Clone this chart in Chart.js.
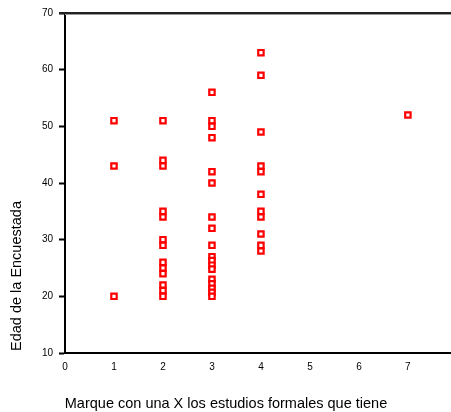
<!DOCTYPE html>
<html>
<head>
<meta charset="utf-8">
<script src="https://cdn.jsdelivr.net/npm/chart.js@4/dist/chart.umd.min.js"></script>
<style>
  html, body { margin: 0; padding: 0; background: #fff; overflow: hidden; }
  #wrap { width: 457px; height: 412px; position: relative; }
</style>
</head>
<body>
<div id="wrap"><canvas id="scatterChart"></canvas></div>
<script>
// estudios formales (x) vs edad (y)
const estudios1 = [1, 1, 1];
const edad1 = [51, 43, 20];
const estudios2 = [2, 2, 2, 2, 2, 2, 2, 2, 2, 2, 2, 2, 2];
const edad2 = [51, 44, 43, 35, 34, 30, 29, 26, 25, 24, 22, 21, 20];
const estudios3 = [3, 3, 3, 3, 3, 3, 3, 3, 3, 3, 3, 3, 3, 3, 3, 3, 3, 3];
const edad3 = [56, 51, 50, 48, 42, 40, 34, 32, 29, 27, 26.3, 25.5, 24.8, 23, 22.2, 21.4, 20.7, 20];
const estudios4 = [4, 4, 4, 4, 4, 4, 4, 4, 4, 4, 4];
const edad4 = [63, 59, 49, 43, 42, 38, 35, 34, 31, 29, 28];
const estudios7 = [7];
const edad7 = [52];

const yTicks = [10, 20, 30, 40, 50, 60, 70];
const xTicks = [0, 1, 2, 3, 4, 5, 6, 7];
const xTitle = 'Marque con una X los estudios formales que tiene';
const yTitle = 'Edad de la Encuestada';

const xs = [].concat(estudios1, estudios2, estudios3, estudios4, estudios7);
const ys = [].concat(edad1, edad2, edad3, edad4, edad7);
const points = xs.map((x, i) => ({ x: x, y: ys[i] }));

const FONT = 'Arial, "Liberation Sans", sans-serif';

// titles and top frame line
const decor = {
  id: 'decor',
  afterDraw(chart) {
    const ctx = chart.ctx;
    const a = chart.chartArea;
    ctx.save();
    ctx.strokeStyle = '#222';
    ctx.lineWidth = 2;
    ctx.beginPath();
    ctx.moveTo(a.left - 6, a.top);
    ctx.lineTo(a.right, a.top);
    ctx.stroke();
    ctx.strokeStyle = '#999';
    ctx.lineWidth = 1;
    ctx.beginPath();
    ctx.moveTo(a.left, a.top + 1.5);
    ctx.lineTo(a.right, a.top + 1.5);
    ctx.stroke();

    ctx.fillStyle = '#000';
    ctx.font = '14.5px ' + FONT;
    ctx.textAlign = 'center';
    ctx.textBaseline = 'middle';
    ctx.fillText(xTitle, 226, 404);

    ctx.translate(17, 276);
    ctx.rotate(-Math.PI / 2);
    ctx.fillText(yTitle, 0, 0);
    ctx.restore();
  }
};

const chart = new Chart(document.getElementById('scatterChart'), {
  type: 'scatter',
  data: {
    datasets: [{
      data: points,
      pointStyle: 'rect',
      pointRadius: 3.8,
      pointHoverRadius: 3.8,
      borderWidth: 2.2,
      borderColor: '#ff0000',
      backgroundColor: '#ffffff'
    }]
  },
  options: {
    responsive: true,
    maintainAspectRatio: false,
    animation: false,
    layout: { padding: { top: 13, right: 0, left: 0, bottom: 0 } },
    plugins: {
      legend: { display: false },
      tooltip: { enabled: false }
    },
    scales: {
      x: {
        type: 'linear',
        min: 0,
        max: 7.88,
        afterFit(scale) {
          scale.height = 59;
          scale.paddingLeft = 0;
          scale.paddingRight = 0;
        },
        afterBuildTicks(scale) { scale.ticks = xTicks.map(v => ({ value: v })); },
        grid: { display: false, drawTicks: false },
        border: { display: true, color: '#000', width: 2 },
        ticks: {
          color: '#000',
          font: { family: FONT, size: 10 },
          padding: 8,
          maxRotation: 0
        }
      },
      y: {
        type: 'linear',
        min: 10,
        max: 70,
        afterFit(scale) { scale.width = 65; },
        afterBuildTicks(scale) { scale.ticks = yTicks.map(v => ({ value: v })); },
        grid: {
          drawOnChartArea: false,
          drawTicks: true,
          tickLength: 6,
          tickColor: '#000',
          tickWidth: 2
        },
        border: { display: true, color: '#000', width: 2 },
        ticks: {
          color: '#000',
          font: { family: FONT, size: 10 },
          padding: 6
        }
      }
    }
  },
  plugins: [decor]
});
</script>
</body>
</html>
